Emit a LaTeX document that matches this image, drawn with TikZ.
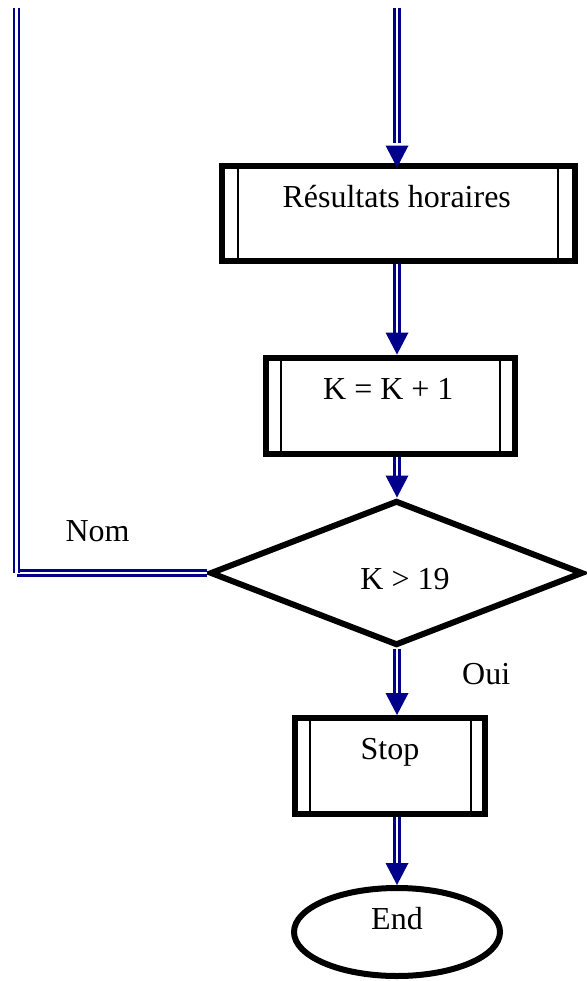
\documentclass[tikz,border=0pt]{standalone}
\usepackage{fontspec}
\setmainfont{Liberation Serif}
\usetikzlibrary{shapes.geometric,calc}
\definecolor{navyc}{RGB}{0,0,139}
\begin{document}
\begin{tikzpicture}[x=1pt,y=-1pt,
  dbl/.style={draw=navyc, line width=2.6pt, double=white, double distance=2.4pt},
  tipfill/.style={fill=navyc},
  lbl/.style={font=\fontsize{32}{36}\selectfont, inner sep=0pt, anchor=base},
  procbox/.style={draw=black, line width=6pt, inner sep=0pt, fill=white,
    path picture={
      \draw[black, line width=2pt]
        ([xshift=#1]path picture bounding box.north west) -- ([xshift=#1]path picture bounding box.south west);
      \draw[black, line width=2pt]
        ([xshift=-#1]path picture bounding box.north east) -- ([xshift=-#1]path picture bounding box.south east);
    }},
  decision/.style={draw=black, line width=6pt, shape=diamond, inner sep=0pt, fill=white},
  term/.style={draw=black, line width=6pt, shape=ellipse, inner sep=0pt, fill=white}
]
\useasboundingbox[fill=white] (0,0) rectangle (586,981);

% column and free ends
\coordinate (col) at (397,8);
\coordinate (ltop) at (16.5,8);

% nodes
\node[procbox=16.5pt, minimum width=353pt, minimum height=95.5pt] (box1) at (398,213.3) {};
\node[procbox=15pt, minimum width=249pt, minimum height=96.5pt] (box2) at (390.1,405.8) {};
\node[decision, minimum width=373pt, minimum height=145pt] (dec) at (396.5,573) {};
\node[procbox=14.5pt, minimum width=190pt, minimum height=95.7pt] (stop) at (390.4,765.9) {};
\node[term, minimum width=206pt, minimum height=88pt] (end) at (397,932) {};
\coordinate (lcorner) at (dec.west -| ltop);

% texts
\node[lbl] (t1) at (396.7,208) {Résultats horaires};
\node[lbl] (t2) at (388.3,399) {K = K + 1};
\node[lbl] (t3) at (405,589) {K > 19};
\node[lbl] (t4) at (390,759) {Stop};
\node[lbl] (t5) at (397,929) {End};
\node[lbl] (nom) at (97.5,541) {Nom};
\node[lbl, anchor=base west] (oui) at (462,684) {Oui};

% connectors
\draw[dbl, shorten >=20pt] (col) -- (box1.north -| col);
\draw[dbl, shorten >=20pt] (box1.south -| col) -- (box2.north -| col);
\draw[dbl, shorten >=20pt] (box2.south -| col) -- (dec.north -| col);
\draw[dbl, shorten >=20pt] (dec.south -| col) -- (stop.north -| col);
\draw[dbl, shorten >=20pt] (stop.south -| col) -- (end.north -| col);
\draw[dbl] (dec.west) -- (lcorner);
\draw[dbl] (lcorner) -- (ltop);

% arrowheads
\fill[tipfill] ($(box1.north -| col)+(0,5)$) -- ++(-11.5,-22) -- ++(23,0) -- cycle;
\fill[tipfill] (box2.north -| col) -- ++(-11.5,-22) -- ++(23,0) -- cycle;
\fill[tipfill] (dec.north -| col) -- ++(-11.5,-22) -- ++(23,0) -- cycle;
\fill[tipfill] (stop.north -| col) -- ++(-11.5,-22) -- ++(23,0) -- cycle;
\fill[tipfill] (end.north -| col) -- ++(-11.5,-22) -- ++(23,0) -- cycle;
\end{tikzpicture}
\end{document}
